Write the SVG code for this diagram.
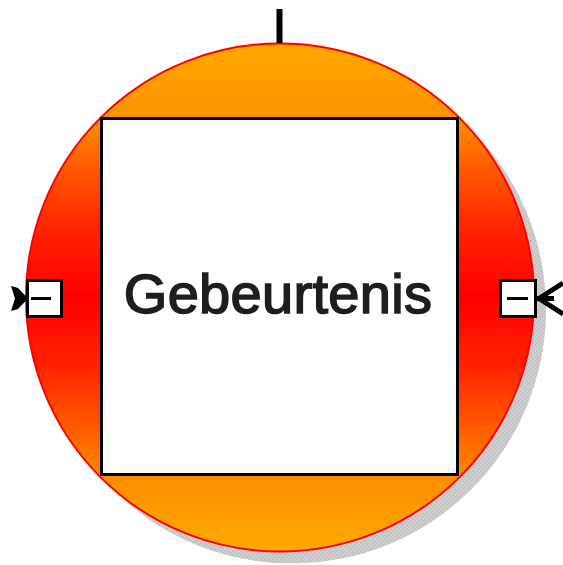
<svg xmlns="http://www.w3.org/2000/svg" width="563" height="565" viewBox="0 0 563 565">
  <defs>
    <linearGradient id="fill" gradientUnits="userSpaceOnUse" x1="0" y1="43" x2="0" y2="552">
      <stop offset="0" stop-color="#ffa800"/>
      <stop offset="0.14" stop-color="#ff9400"/>
      <stop offset="0.25" stop-color="#ff5800"/>
      <stop offset="0.37" stop-color="#ff2200"/>
      <stop offset="0.5" stop-color="#ff0000"/>
      <stop offset="0.63" stop-color="#ff2200"/>
      <stop offset="0.75" stop-color="#ff5800"/>
      <stop offset="0.86" stop-color="#ff9000"/>
      <stop offset="1" stop-color="#ffaa00"/>
    </linearGradient>
    <pattern id="dither" width="4" height="4" patternUnits="userSpaceOnUse">
      <rect width="4" height="4" fill="#c4c4c4"/>
      <rect width="2" height="2" fill="#cfcfcf"/>
      <rect x="2" y="2" width="2" height="2" fill="#cfcfcf"/>
    </pattern>
  </defs>
  <style>
    .port { fill: #ffffff; stroke: #000000; stroke-width: 3; }
    .dash { stroke: #000000; stroke-width: 3; }
    .lbl { font-family: "Liberation Sans", Arial, sans-serif; font-size: 56px; fill: #1e1e1e; stroke: #1e1e1e; stroke-width: 1.6px; letter-spacing: 0.3px; }
  </style>
  <g id="event">
    <circle cx="292" cy="309.5" r="254" fill="url(#dither)"/>
    <circle cx="280" cy="297.5" r="254" fill="url(#fill)" stroke="#ff0000" stroke-width="2"/>
    <rect x="101.5" y="118.5" width="356" height="356" fill="#ffffff" stroke="#000000" stroke-width="3"/>
    <text class="lbl" x="278" y="313" text-anchor="middle">Gebeurtenis</text>
  </g>
  <g id="port-left">
    <rect class="port" x="27.5" y="280.5" width="34" height="36"/>
    <line class="dash" x1="31" y1="298.5" x2="51" y2="298.5"/>
  </g>
  <g id="port-right">
    <rect class="port" x="500.5" y="280.5" width="35" height="36"/>
    <line class="dash" x1="507" y1="298.5" x2="528" y2="298.5"/>
  </g>
  <g id="connectors">
    <line x1="279.5" y1="9" x2="279.5" y2="43" stroke="#000000" stroke-width="6"/>
    <path d="M11,286 L18,288 L28,298.5 L18,309 L11,311 L15,298.5 Z" fill="#000000"/>
    <path d="M563,283 L539,298.5 L563,314" fill="none" stroke="#000000" stroke-width="5"/>
    <line x1="537" y1="298.5" x2="554" y2="298.5" stroke="#000000" stroke-width="5"/>
  </g>
</svg>
